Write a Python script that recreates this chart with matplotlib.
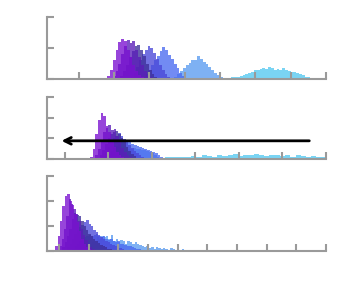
import numpy as np
import matplotlib
matplotlib.use("Agg")
import matplotlib.pyplot as plt

# couleurs des series (violet -> bleu ciel)
colors = ['#7a10d0', '#5a1db8', '#3e2f9a', '#4a48d8', '#4a6af0', '#5a9cf0', '#55c8f0']

# ---- panneau 1 : bin 0.08, debut de chaque histogramme
p1_width = 0.08
p1_starts = [0.72, 0.88, 1.10, 1.39, 1.73, 2.63, 4.00]
p1_purple = [0.03, 0.1, 0.3, 0.6, 0.95, 1.2, 1.29, 1.22, 0.95, 0.7, 0.45, 0.25, 0.12, 0.05]
p1_violet = [0.03, 0.1, 0.25, 0.5, 0.8, 1.05, 1.25, 1.15, 1.22, 0.95, 0.7, 0.45, 0.25, 0.12, 0.05, 0.02]
p1_slate_dark = [0.03, 0.1, 0.25, 0.45, 0.7, 0.9, 1.08, 1.1, 0.95, 0.75, 0.5, 0.3, 0.15, 0.07, 0.03]
p1_slate = [0.03, 0.08, 0.2, 0.4, 0.6, 0.8, 0.95, 1.08, 1.0, 0.85, 0.65, 0.45, 0.28, 0.15, 0.07, 0.03]
p1_royal = [0.03, 0.07, 0.15, 0.3, 0.45, 0.6, 0.75, 0.9, 1.02, 0.95, 0.78, 0.65, 0.5, 0.35, 0.2, 0.1, 0.04]
p1_corn = [0.03, 0.08, 0.15, 0.25, 0.35, 0.45, 0.52, 0.6, 0.62, 0.74, 0.65, 0.55, 0.5, 0.4, 0.3, 0.2, 0.12, 0.05]
p1_sky = [0.02, 0.03, 0.03, 0.04, 0.05, 0.06, 0.07, 0.1, 0.12, 0.15, 0.2, 0.22, 0.3, 0.28, 0.32, 0.35, 0.33,
          0.4, 0.36, 0.3, 0.33, 0.28, 0.35, 0.3, 0.26, 0.22, 0.24, 0.2, 0.16, 0.12, 0.08, 0.06, 0.04, 0.03, 0.02]

# ---- panneau 2 : bin 0.06 (0.12 pour le bleu ciel)
p2_widths = [0.06, 0.06, 0.06, 0.06, 0.06, 0.06, 0.12]
p2_starts = [0.58, 0.64, 0.74, 0.80, 0.87, 1.03, 2.18]
p2_purple = [0.1, 0.5, 1.2, 1.9, 2.24, 2.1, 1.6, 1.3, 0.9, 0.6, 0.35, 0.2, 0.1, 0.05]
p2_violet = [0.05, 0.2, 0.5, 0.9, 1.3, 1.5, 1.66, 1.4, 1.45, 1.1, 0.8, 0.55, 0.35, 0.2, 0.1, 0.05]
p2_slate_dark = [0.05, 0.2, 0.45, 0.75, 1.0, 1.2, 1.3, 1.35, 1.2, 1.0, 0.8, 0.6, 0.4, 0.25, 0.15, 0.07, 0.03]
p2_slate = [0.05, 0.15, 0.35, 0.6, 0.85, 1.0, 1.1, 1.27, 1.1, 0.95, 0.85, 0.7, 0.55, 0.4, 0.28, 0.18, 0.1, 0.05]
p2_royal = [0.05, 0.12, 0.25, 0.4, 0.55, 0.65, 0.75, 0.85, 0.9, 0.8, 0.85, 0.75, 0.7, 0.65, 0.6, 0.55,
            0.5, 0.45, 0.4, 0.35, 0.28, 0.2, 0.12, 0.06]
p2_corn = [0.05, 0.1, 0.2, 0.3, 0.35, 0.4, 0.45, 0.5, 0.5, 0.55, 0.5, 0.5, 0.45, 0.45, 0.4, 0.35, 0.3,
           0.2, 0.12, 0.06, 0.03, 0.02]
p2_sky = [0.05, 0.08, 0.1, 0.08, 0.12, 0.1, 0.15, 0.12, 0.18, 0.15, 0.12, 0.2, 0.15, 0.18, 0.22, 0.15,
          0.2, 0.18, 0.25, 0.2, 0.15, 0.2, 0.18, 0.15, 0.2, 0.12, 0.18, 0.15, 0.1, 0.15, 0.12, 0.08]
arrow_from = (5.68, 0.88)
arrow_to = (-0.14, 0.88)

# ---- panneau 3 : bin 0.08 (0.24 pour le bleu ciel)
p3_widths = [0.08, 0.08, 0.08, 0.08, 0.08, 0.08, 0.24]
p3_starts = [-0.2, -0.07, 0.03, 0.2, 0.37, 0.71, 3.0]
p3_purple = [0.05, 0.2, 0.6, 1.2, 1.8, 2.2, 2.28, 2.0, 1.85, 1.5, 1.15, 0.8, 0.5, 0.3, 0.15, 0.07, 0.03]
p3_violet = [0.05, 0.2, 0.5, 0.9, 1.4, 2.08, 1.9, 1.7, 1.5, 1.2, 0.9, 0.65, 0.45, 0.3, 0.18, 0.1, 0.05, 0.02]
p3_slate_dark = [0.05, 0.15, 0.35, 0.6, 0.9, 1.3, 1.52, 1.45, 1.4, 1.2, 1.0, 0.85, 0.7, 0.6, 0.5, 0.4,
                 0.33, 0.25, 0.2, 0.15, 0.1, 0.07, 0.05, 0.03]
p3_slate = [0.05, 0.15, 0.3, 0.5, 0.7, 0.85, 0.95, 1.05, 1.15, 1.24, 1.1, 1.0, 0.85, 0.75, 0.65, 0.55,
            0.5, 0.4, 0.35, 0.3, 0.25, 0.2, 0.15, 0.12, 0.08, 0.05, 0.03]
p3_royal = [0.05, 0.1, 0.2, 0.3, 0.4, 0.5, 0.55, 0.6, 0.65, 0.6, 0.65, 0.7, 0.6, 0.55, 0.6, 0.5, 0.45,
            0.5, 0.4, 0.35, 0.4, 0.3, 0.28, 0.25, 0.2, 0.22, 0.15, 0.12, 0.1, 0.08, 0.06, 0.05, 0.04,
            0.03, 0.02]
p3_corn = [0.05, 0.1, 0.15, 0.2, 0.3, 0.35, 0.4, 0.55, 0.5, 0.62, 0.55, 0.6, 0.48, 0.64, 0.4, 0.5,
           0.35, 0.45, 0.42, 0.3, 0.4, 0.38, 0.3, 0.35, 0.28, 0.25, 0.2, 0.15, 0.22, 0.12, 0.18, 0.1,
           0.15, 0.12, 0.08, 0.14, 0.1, 0.06, 0.12, 0.08, 0.05, 0.06, 0.04, 0.08, 0.03, 0.05, 0.03,
           0.06, 0.02, 0.04, 0.02, 0.03]
p3_sky = [0.03, 0.02, 0.04, 0.02, 0.03, 0.01, 0.02, 0.0, 0.01, 0.0, 0.0, 0.0, 0.0, 0.0, 0.0, 0.02,
          0.03, 0.01, 0.0, 0.02, 0.03, 0.02, 0.0, 0.01, 0.0]

gris = '#9a9a9a'


def dessine(ax, series, starts, widths):
    # du bleu ciel au violet : le violet finit au-dessus
    items = list(zip(series, starts, widths, colors))
    for vals, start, w, c in items[::-1]:
        edges = start + w * np.arange(len(vals) + 1)
        ax.stairs(vals, edges, fill=True, color=c, alpha=0.78, lw=0)


def style(ax, xmin, xmax, ymax):
    ax.set_xlim(xmin, xmax)
    ax.set_ylim(0, ymax)
    ax.set_xticks(np.arange(0, xmax + 0.01, 1))
    ax.set_yticks(np.arange(0, ymax + 0.01, 1))
    ax.tick_params(direction='in', length=5, width=1.5, color=gris,
                   labelbottom=False, labelleft=False)
    for s in ['top', 'right']:
        ax.spines[s].set_visible(False)
    for s in ['left', 'bottom']:
        ax.spines[s].set_color(gris)
        ax.spines[s].set_linewidth(1.5)


fig = plt.figure(figsize=(3.5, 2.95), dpi=100)
ax1 = fig.add_axes([47 / 350, 216 / 295, 279 / 350, 62 / 295])
ax2 = fig.add_axes([47 / 350, 136 / 295, 279 / 350, 62 / 295])
ax3 = fig.add_axes([47 / 350, 44 / 295, 279 / 350, 75 / 295])

dessine(ax1, [p1_purple, p1_violet, p1_slate_dark, p1_slate, p1_royal, p1_corn, p1_sky],
        p1_starts, [p1_width] * 7)
style(ax1, -0.9, 7, 2)

dessine(ax2, [p2_purple, p2_violet, p2_slate_dark, p2_slate, p2_royal, p2_corn, p2_sky],
        p2_starts, p2_widths)
style(ax2, -0.41, 6, 3)
ax2.annotate('', xy=arrow_to, xytext=arrow_from,
             arrowprops=dict(arrowstyle='->', color='black', lw=2, mutation_scale=12))

dessine(ax3, [p3_purple, p3_violet, p3_slate_dark, p3_slate, p3_royal, p3_corn, p3_sky],
        p3_starts, p3_widths)
style(ax3, -0.4, 9, 3)

fig.savefig('out.png', dpi=100)
